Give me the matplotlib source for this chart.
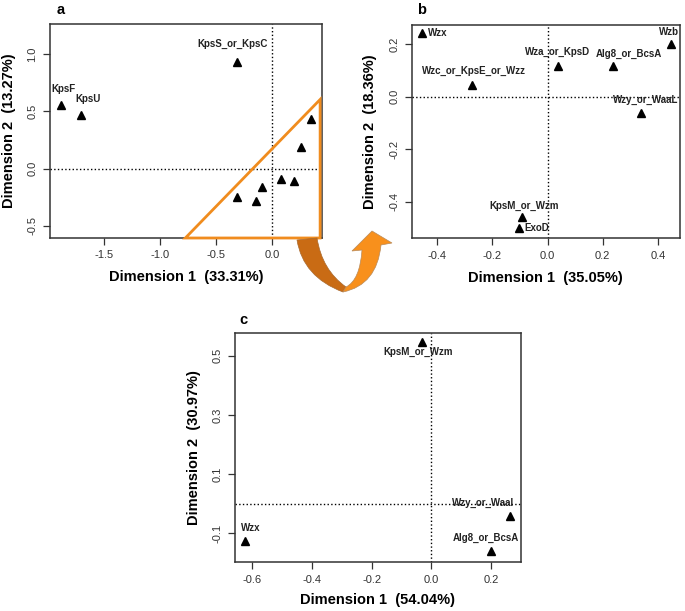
import matplotlib
matplotlib.use('Agg')
import matplotlib.pyplot as plt
from matplotlib.path import Path
from matplotlib.patches import PathPatch

plt.rcParams['font.family'] = ['Liberation Sans', 'DejaVu Sans']

# ---- data ----
a_x = [-1.89, -1.71, -0.32, 0.343, 0.253, 0.075, 0.194, -0.089, -0.318, -0.148]
a_y = [0.553, 0.465, 0.93, 0.436, 0.193, -0.09, -0.105, -0.158, -0.246, -0.28]
a_names = ['KpsF', 'KpsU', 'KpsS_or_KpsC', '', '', '', '', '', '', '']

b_x = [-0.455, -0.275, 0.038, 0.238, 0.449, 0.338, -0.094, -0.104]
b_y = [0.242, 0.045, 0.117, 0.117, 0.201, -0.061, -0.46, -0.502]
b_names = ['Wzx', 'Wzc_or_KpsE_or_Wzz', 'Wza_or_KpsD', 'Alg8_or_BcsA',
           'Wzb', 'Wzy_or_WaaL', 'KpsM_or_Wzm', 'ExoD']

c_x = [-0.03, -0.623, 0.262, 0.2]
c_y = [0.547, -0.126, -0.041, -0.16]
c_names = ['KpsM_or_Wzm', 'Wzx', 'Wzy_or_Waal', 'Alg8_or_BcsA']

a_ticks_x = [-1.5, -1.0, -0.5, 0.0]
a_ticks_y = [-0.5, 0.0, 0.5, 1.0]
b_ticks_x = [-0.4, -0.2, 0.0, 0.2, 0.4]
b_ticks_y = [-0.4, -0.2, 0.0, 0.2]
c_ticks_x = [-0.6, -0.4, -0.2, 0.0, 0.2]
c_ticks_y = [-0.1, 0.1, 0.3, 0.5]

W, H = 685, 611


def fx(x):
    return x / W


def fy(y):
    return 1 - y / H


fig = plt.figure(figsize=(W / 100, H / 100), dpi=100)


def panel(rect_px, xs, ys, names, offs, xlim, ylim, xt, yt, xlab, ylab,
          letter, letter_px, xlab_y, ylab_x):
    l, t, r, b = rect_px
    ax = fig.add_axes([fx(l), fy(b), (r - l) / W, (b - t) / H])
    ax.plot(xs, ys, '^', color='black', ms=6.3, zorder=3)
    ax.axhline(0, color='black', ls=':', lw=1)
    ax.axvline(0, color='black', ls=':', lw=1)
    for x, y, n in zip(xs, ys, names):
        if not n:
            continue
        dx, dy, ha = offs.get(n, (0, 9, 'center'))
        ax.annotate(n, (x, y), xytext=(dx, dy), textcoords='offset points',
                    ha=ha, va='center', fontsize=7, fontweight='bold',
                    color='#222222')
    ax.set_xlim(xlim)
    ax.set_ylim(ylim)
    ax.set_xticks(xt)
    ax.set_xticklabels([f'{v:.1f}' for v in xt])
    ax.set_yticks(yt)
    ax.set_yticklabels([f'{v:.1f}' for v in yt], rotation=90, va='center')
    ax.tick_params(length=5, width=0.9, labelsize=8, pad=4,
                   labelcolor='#333333', color='#333333')
    for s in ax.spines.values():
        s.set_linewidth(1.1)
        s.set_color('#333333')
    cx = (l + r) / 2
    cy = (t + b) / 2
    fig.text(fx(cx), fy(xlab_y), xlab, ha='center', va='center',
             fontsize=10.5, fontweight='bold')
    fig.text(fx(ylab_x), fy(cy), ylab, ha='center', va='center',
             rotation=90, fontsize=10.5, fontweight='bold')
    fig.text(fx(letter_px[0]), fy(letter_px[1]), letter, ha='center',
             va='center', fontsize=10.5, fontweight='bold')
    return ax


a_offs = {'KpsS_or_KpsC': (-3, 13, 'center'), 'KpsF': (2, 12, 'center'),
          'KpsU': (5, 11.5, 'center')}
ax_a = panel((50, 24, 321.7, 238), a_x, a_y, a_names, a_offs,
             (-1.985, 0.44), (-0.608, 1.266), a_ticks_x, a_ticks_y,
             'Dimension 1  (33.31%)', 'Dimension 2  (13.27%)',
             'a', (61, 9.5), 277, 9)
# orange highlight triangle
ax_a.fill([-0.777, 0.426, 0.426], [-0.608, 0.605, -0.608], fill=False,
          edgecolor='#F08C1E', lw=2, clip_on=False, zorder=4)

b_offs = {'Wzx': (4, 0, 'left'), 'Wzc_or_KpsE_or_Wzz': (1.5, 10, 'center'),
          'Wza_or_KpsD': (-0.5, 10, 'center'), 'Alg8_or_BcsA': (11, 9, 'center'),
          'Wzb': (-2, 9, 'center'), 'Wzy_or_WaaL': (3.5, 9.5, 'center'),
          'KpsM_or_Wzm': (1.5, 8.5, 'center'), 'ExoD': (4, 0, 'left')}
panel((411.7, 25, 680, 238.3), b_x, b_y, b_names, b_offs,
      (-0.493, 0.48), (-0.54, 0.274), b_ticks_x, b_ticks_y,
      'Dimension 1  (35.05%)', 'Dimension 2  (18.36%)',
      'b', (421.7, 9.5), 278, 370)

c_offs = {'KpsM_or_Wzm': (-3, -7.5, 'center'), 'Wzx': (3.5, 9.5, 'center'),
          'Wzy_or_Waal': (-19, 9, 'center'), 'Alg8_or_BcsA': (-4, 9.5, 'center')}
panel((235, 333.3, 520.7, 562.3), c_x, c_y, c_names, c_offs,
      (-0.658, 0.2995), (-0.198, 0.576), c_ticks_x, c_ticks_y,
      'Dimension 1  (54.04%)', 'Dimension 2  (30.97%)',
      'c', (243.3, 320), 600, 194)

# curved arrow from panel a to panel b
P = lambda x, y: (fx(x), fy(y))
left = Path([P(297, 240), P(303, 277), P(343, 292), P(346, 287),
             P(322, 270), P(317, 238), P(297, 240)],
            [Path.MOVETO, Path.CURVE3, Path.CURVE3, Path.LINETO,
             Path.CURVE3, Path.CURVE3, Path.CLOSEPOLY])
fig.add_artist(PathPatch(left, transform=fig.transFigure, facecolor='#C96B14',
                         edgecolor='#A8692E', lw=0.5))
right = Path([P(343, 292), P(377, 285), P(381, 245), P(392, 243), P(372, 231),
              P(352, 251), P(362, 250), P(360, 280), P(346, 287), P(343, 292)],
             [Path.MOVETO, Path.CURVE3, Path.CURVE3, Path.LINETO, Path.LINETO,
              Path.LINETO, Path.LINETO, Path.CURVE3, Path.CURVE3, Path.CLOSEPOLY])
fig.add_artist(PathPatch(right, transform=fig.transFigure, facecolor='#F8901C',
                         edgecolor='#B88A5A', lw=0.5))

fig.savefig('out.png', dpi=100)
